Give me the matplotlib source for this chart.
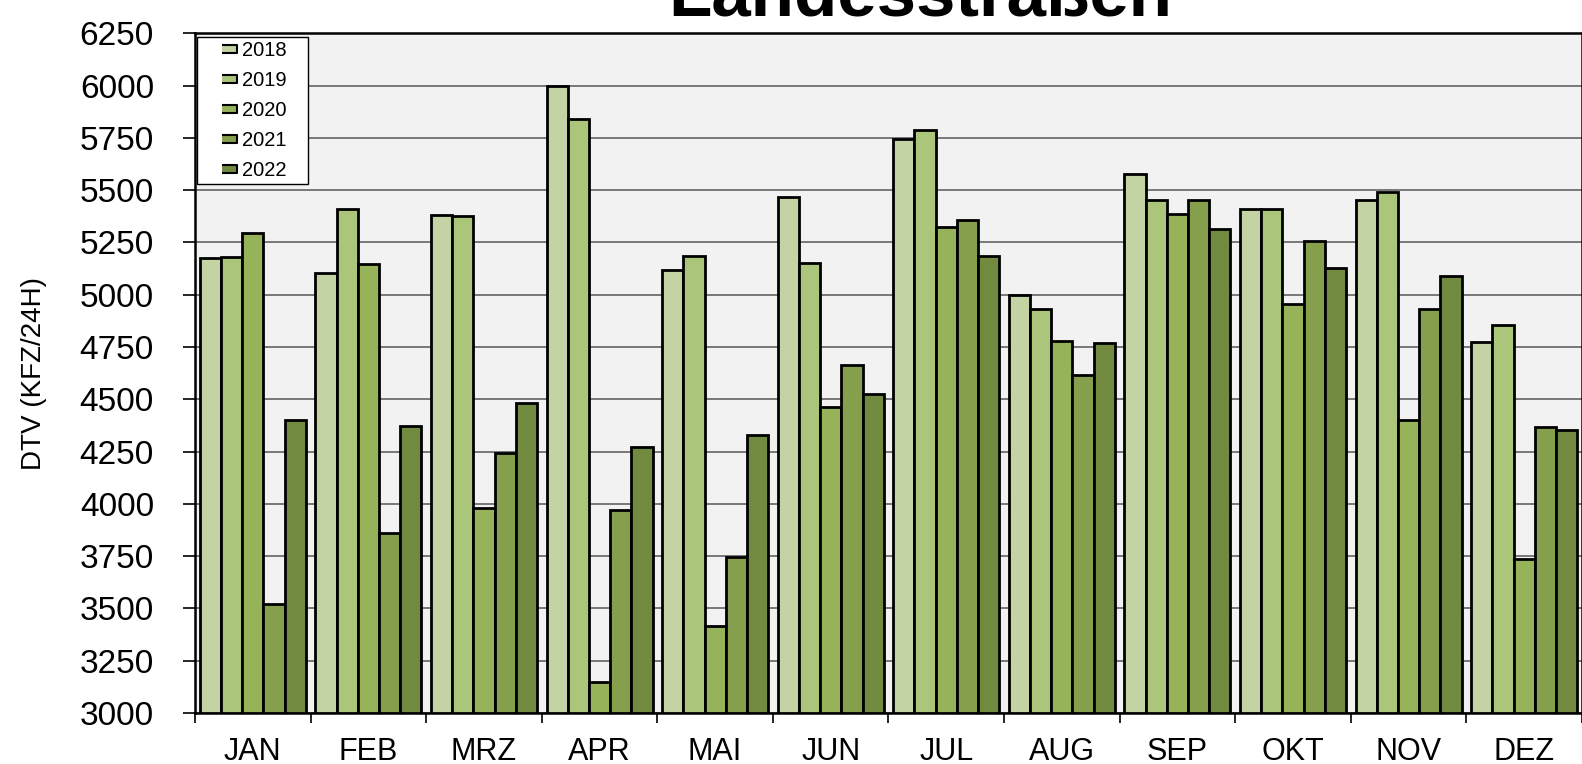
#!/usr/bin/env python3
# Monthly DTV on Landesstrassen, 2018 - 2022 (grouped bars)

import numpy as np
import matplotlib
matplotlib.use('Agg')
import matplotlib.pyplot as plt
from matplotlib.lines import Line2D
from matplotlib.patches import Rectangle

plt.rcParams['font.family'] = ['Liberation Sans', 'DejaVu Sans']

# data
months = ['JAN', 'FEB', 'MRZ', 'APR', 'MAI', 'JUN',
          'JUL', 'AUG', 'SEP', 'OKT', 'NOV', 'DEZ']
years = ['2018', '2019', '2020', '2021', '2022']

dtv_2018 = [5175, 5105, 5380, 6000, 5120, 5465, 5745, 5000, 5577, 5408, 5453, 4774]
dtv_2019 = [5182, 5410, 5378, 5838, 5185, 5150, 5790, 4933, 5451, 5412, 5493, 4855]
dtv_2020 = [5297, 5148, 3978, 3150, 3418, 4464, 5326, 4781, 5387, 4956, 4403, 3738]
dtv_2021 = [3523, 3862, 4241, 3969, 3746, 4662, 5356, 4617, 5451, 5257, 4932, 4369]
dtv_2022 = [4401, 4371, 4481, 4274, 4329, 4525, 5185, 4769, 5314, 5129, 5091, 4352]

series = [dtv_2018, dtv_2019, dtv_2020, dtv_2021, dtv_2022]
colors = ['#c3d3a4', '#abc57b', '#97b35a', '#859f4d', '#728a40']

yticks = np.arange(3000, 6251, 250)

# figure
W, H = 1582, 764
fig = plt.figure(figsize=(W/100, H/100), dpi=100)
ax = fig.add_axes([195/W, 1 - 713/H, (W - 195)/W, (713 - 33.3)/H])
ax.set_facecolor('#f2f2f2')

x = np.arange(len(months))
bw = 0.1834
for i in range(len(years)):
    ax.bar(x + (i - 2)*bw, np.array(series[i]) - 3000, bottom=3000, width=bw,
           color=colors[i], edgecolor='black', linewidth=2, zorder=3)

ax.set_ylim(3000, 6250)
ax.set_xlim(-0.5, len(months) - 0.5)
ax.set_yticks(yticks)
ax.yaxis.grid(True, color='#6e6e6e', linewidth=1.3, zorder=0)
ax.set_axisbelow(True)
ax.tick_params(axis='y', direction='out', length=8.6, width=1.2,
               pad=21, labelsize=24)

# month names in the middle, tick marks between the groups
ax.set_xticks(x)
ax.set_xticklabels(months)
ax.set_xticks(np.arange(-0.5, len(months)), minor=True)
ax.tick_params(axis='x', which='major', length=0, pad=17, labelsize=22)
ax.tick_params(axis='x', which='minor', direction='out', length=7.2, width=1.2)

for s in ax.spines.values():
    s.set_color('black')
    s.set_linewidth(1.8)

ax.set_ylabel('DTV (KFZ/24H)', fontsize=20)
ax.yaxis.set_label_coords(-(195 - 47)/(W - 195), 0.5)

# title, partly cut off at the top like in the original
fig.text(920/W, 1 - 15/H, 'Landesstraßen', ha='center', va='baseline',
         fontsize=51, fontweight='bold')

# legend: small flat boxes, frame drawn separately (wider than mpl pads)
handles = []
for i in range(len(years)):
    handles.append(Line2D([], [], linestyle='none',
                          marker=[(-1, -0.5), (1, -0.5), (1, 0.5), (-1, 0.5)],
                          markersize=10.8, markerfacecolor=colors[i],
                          markeredgecolor='black', markeredgewidth=1.5))
leg = ax.legend(handles, years, loc='upper left',
                bbox_to_anchor=((221 - 195)/(W - 195), (713 - 41)/(713 - 33.3)),
                frameon=False, fontsize=14.5, borderpad=0, borderaxespad=0,
                handlelength=0.75, handletextpad=0.3, labelspacing=0.55)
leg.set_zorder(6)
ax.add_patch(Rectangle((2/(W - 195), (713 - 184)/(713 - 33.3)),
                       111/(W - 195), 147.2/(713 - 33.3),
                       transform=ax.transAxes, facecolor='white',
                       edgecolor='black', linewidth=1.0, zorder=5))

fig.savefig('out.png', dpi=100)
